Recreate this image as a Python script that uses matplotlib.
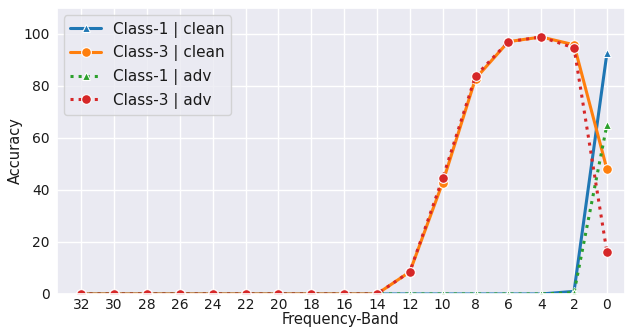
import matplotlib
matplotlib.use("Agg")
import matplotlib.pyplot as plt
import numpy as np
import seaborn as sns

# frequency bands, high to low
bands = [32, 30, 28, 26, 24, 22, 20, 18, 16, 14, 12, 10, 8, 6, 4, 2, 0]

class1_clean = [0, 0, 0, 0, 0, 0, 0, 0, 0, 0, 0, 0, 0, 0, 0, 1.0, 92.5]
class3_clean = [0, 0, 0, 0, 0, 0, 0, 0, 0, 0, 8.5, 42.8, 82.8, 97.0, 98.8, 95.8, 48.0]
class1_adv = [0, 0, 0, 0, 0, 0, 0, 0, 0, 0, 0, 0, 0, 0, 0, 0.5, 65.0]
class3_adv = [0, 0, 0, 0, 0, 0, 0, 0, 0, 0, 8.5, 44.5, 83.8, 97.0, 98.8, 94.6, 16.2]

sns.set_theme(style="darkgrid")
pal = sns.color_palette("tab10")

fig = plt.figure(figsize=(6.3, 3.27), dpi=100)
ax = fig.add_axes([0.09, 0.101, 0.902, 0.875])

x = np.arange(len(bands))
ax.plot(x, class1_clean, color=pal[0], lw=2.2, marker="^", ms=6,
        mec="white", mew=0.8, label="Class-1 | clean")
ax.plot(x, class3_clean, color=pal[1], lw=2.2, marker="o", ms=7,
        mec="white", mew=0.8, label="Class-3 | clean")
ax.plot(x, class1_adv, color=pal[2], lw=2.2, ls=":", marker="^", ms=6,
        mec="white", mew=0.8, label="Class-1 | adv")
ax.plot(x, class3_adv, color=pal[3], lw=2.2, ls=":", marker="o", ms=7,
        mec="white", mew=0.8, label="Class-3 | adv")

ax.set_xticks(x)
ax.set_xticklabels([str(b) for b in bands])
ax.set_xlim(-0.75, 16.55)
ax.set_ylim(0, 110)
ax.set_yticks([0, 20, 40, 60, 80, 100])
ax.tick_params(labelsize=10, colors="0.1", length=0, pad=3)
ax.tick_params(axis="y", pad=5)
ax.set_xlabel("Frequency-Band", fontsize=10.5, labelpad=0, color="0.1")
ax.set_ylabel("Accuracy", fontsize=10.5, labelpad=0, color="0.1")
leg = ax.legend(loc="upper left", fontsize=11, frameon=True)
for t in leg.get_texts():
    t.set_color("0.1")

fig.savefig("out.png", dpi=100)
